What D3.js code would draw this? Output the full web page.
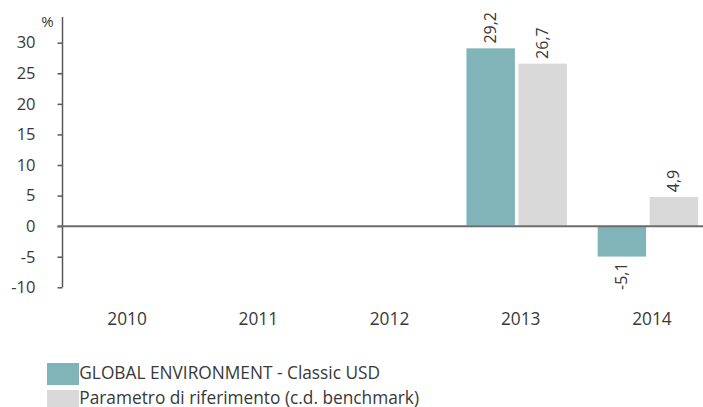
<!DOCTYPE html>
<html><head><meta charset="utf-8">
<script src="https://cdn.jsdelivr.net/npm/d3@7"></script>
<style>body{margin:0;background:#fff}svg{display:block}text{font-family:"Open Sans",sans-serif;fill:#383838}</style>
</head><body><svg id="c" width="703" height="407"></svg>
<script>
const categories = ["2010","2011","2012","2013","2014"];
const seriesNames = ["GLOBAL ENVIRONMENT - Classic USD","Parametro di riferimento (c.d. benchmark)"];
const fundValues = [null,null,null,29.2,-5.1];
const benchValues = [null,null,null,26.7,4.9];
const yTicks = [-10,-5,0,5,10,15,20,25,30];
const colors = ["#80b4b9","#d9d9d9"];

const svg = d3.select("#c");
const x = d3.scaleBand().domain(categories).range([61.5,717.5]);
const inner = d3.scaleBand().domain([0,1]).range([-55,47]).paddingInner(0.04);
const y = d3.scaleLinear().domain([-10,30]).range([287.3,42.7]);

// y axis
const ax = svg.append("g").attr("transform","translate(62.5,0)")
  .call(d3.axisLeft(y).tickValues(yTicks).tickSize(5).tickPadding(22).tickFormat(d=>d));
ax.select(".domain").remove();
ax.selectAll(".tick line").attr("stroke","#595959").attr("stroke-width",1.5);
ax.selectAll(".tick text").attr("font-size",16.5).attr("fill","#383838").style("font-family","'Open Sans',sans-serif");
svg.append("line").attr("x1",62.5).attr("x2",62.5).attr("y1",y(34.2)).attr("y2",y(-10)).attr("stroke","#595959").attr("stroke-width",1.5);
svg.append("text").attr("x",47.5).attr("y",27).attr("text-anchor","middle").attr("font-size",15).text("%");

// bars
const data = [];
categories.forEach((c,i)=>{
  [fundValues[i],benchValues[i]].forEach((v,s)=>{ if(v!=null) data.push({c,s,v}); });
});
const xc = c => x(c)+x.bandwidth()/2;
svg.selectAll("rect.bar").data(data).join("rect").attr("class","bar")
  .attr("x",d=>xc(d.c)+inner(d.s))
  .attr("width",inner.bandwidth())
  .attr("y",d=>y(Math.max(0,d.v)))
  .attr("height",d=>Math.abs(y(d.v)-y(0)))
  .attr("fill",d=>colors[d.s]).attr("stroke","#fff").attr("stroke-width",1.5);

// zero line
svg.append("line").attr("x1",57.5).attr("x2",703).attr("y1",y(0)).attr("y2",y(0)).attr("stroke","#6b6b6b").attr("stroke-width",2);

// value labels
svg.selectAll("text.val").data(data).join("text").attr("class","val")
  .attr("transform",d=>{
    const cx = xc(d.c)+inner(d.s)+inner.bandwidth()/2+5;
    const yy = d.v>=0 ? y(d.v)-4 : y(d.v)+5;
    return `translate(${cx},${yy}) rotate(-90)`;
  })
  .attr("text-anchor",d=>d.v>=0?"start":"end")
  .attr("font-size",16)
  .text(d=>d3.format(".1f")(d.v).replace(".",",").replace("−","-"));

// x labels
svg.selectAll("text.xl").data(categories).join("text").attr("class","xl")
  .attr("x",d=>xc(d)).attr("y",324.5).attr("text-anchor","middle").attr("font-size",17.3).text(d=>d);

// legend
const lg = svg.selectAll("g.lg").data(seriesNames).join("g").attr("class","lg")
  .attr("transform",(d,i)=>`translate(47,${363+i*27})`);
lg.append("rect").attr("width",32).attr("height",22).attr("fill",(d,i)=>colors[i]);
lg.append("text").attr("x",32.3).attr("y",(d,i)=>i===0?16:13.5).attr("font-size",17.3).text(d=>d);
</script></body></html>
